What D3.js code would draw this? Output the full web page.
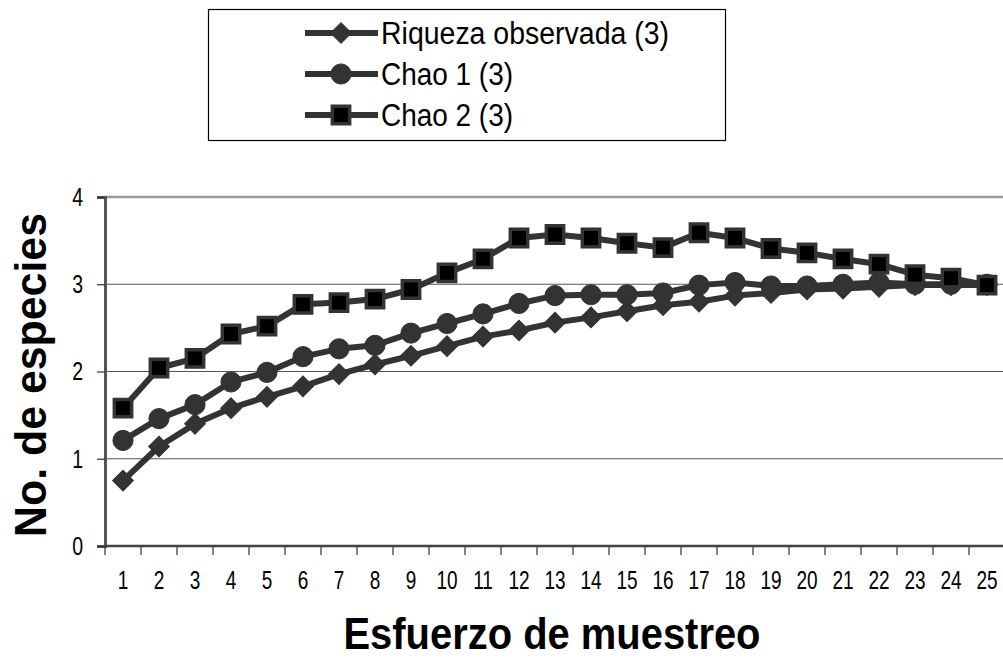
<!DOCTYPE html>
<html>
<head>
<meta charset="utf-8">
<script src="https://cdn.jsdelivr.net/npm/d3@7"></script>
<style>
  html, body { margin: 0; padding: 0; background: #fff; overflow: hidden; }
  svg { display: block; }
  text { font-family: "Liberation Sans Narrow", "Arial Narrow", "Liberation Sans", Arial, sans-serif; }
</style>
</head>
<body>
<svg id="chart" width="1003" height="659"></svg>
<script>
const categories = d3.range(1, 26).map(String);
const riqueza = [0.75, 1.14, 1.40, 1.58, 1.71, 1.83, 1.97, 2.08, 2.18, 2.29, 2.40, 2.47, 2.56, 2.62, 2.69, 2.76, 2.80, 2.87, 2.90, 2.94, 2.95, 2.97, 2.99, 2.99, 2.99];
const chao1   = [1.21, 1.46, 1.62, 1.88, 1.99, 2.17, 2.26, 2.30, 2.44, 2.55, 2.66, 2.78, 2.87, 2.88, 2.88, 2.90, 2.99, 3.02, 2.98, 2.98, 3.00, 3.02, 3.00, 3.00, 3.00];
const chao2   = [1.58, 2.04, 2.15, 2.43, 2.52, 2.77, 2.79, 2.83, 2.94, 3.13, 3.29, 3.53, 3.57, 3.53, 3.47, 3.42, 3.59, 3.53, 3.41, 3.36, 3.29, 3.23, 3.11, 3.07, 2.99];
const yTicks = [0, 1, 2, 3, 4];
const seriesNames = ["Riqueza observada (3)", "Chao 1 (3)", "Chao 2 (3)"];
const seriesSymbols = ["diamond", "circle", "square"];
const yTitle = "No. de especies";
const xTitle = "Esfuerzo de muestreo";

const series = [riqueza, chao1, chao2].map((vals, i) => ({ name: seriesNames[i], sym: seriesSymbols[i], values: vals }));

const svg = d3.select("#chart");
const plot = { left: 105, right: 1005, top: 197, bottom: 546 };

const x = d3.scaleBand().domain(categories).range([plot.left, plot.right]);
const y = d3.scaleLinear().domain([0, 4]).range([plot.bottom, plot.top]);

const lineColor = "#333333";

// condense text (narrow font look)
function condense(sel, factor) {
  sel.each(function () {
    const len = this.getComputedTextLength();
    d3.select(this).attr("textLength", len * factor).attr("lengthAdjust", "spacingAndGlyphs");
  });
}

// gridlines
svg.append("g").selectAll("line").data(yTicks.filter(t => t > 0 && t < 4)).join("line")
  .attr("x1", plot.left).attr("x2", plot.right)
  .attr("y1", d => y(d)).attr("y2", d => y(d))
  .attr("stroke", "#555").attr("stroke-width", 1.2);

// top border
svg.append("line").attr("x1", plot.left).attr("x2", plot.right)
  .attr("y1", plot.top).attr("y2", plot.top)
  .attr("stroke", "#999").attr("stroke-width", 2.5);

// y axis
const yAxis = svg.append("g").attr("transform", `translate(${plot.left},0)`)
  .call(d3.axisLeft(y).tickValues(yTicks).tickSize(8).tickPadding(14).tickFormat(d3.format("d")));
yAxis.select(".domain").attr("stroke", "#555").attr("stroke-width", 3);
yAxis.selectAll(".tick line").attr("stroke", "#333").attr("stroke-width", 1.2);
yAxis.selectAll(".tick text").attr("font-size", 26).attr("fill", "#000")
  .style("font-family", '"Liberation Sans Narrow", "Arial Narrow", "Liberation Sans", Arial, sans-serif');
condense(yAxis.selectAll(".tick text"), 0.75);

// x axis (ticks between categories)
const xAxisG = svg.append("g");
xAxisG.append("line").attr("x1", plot.left).attr("x2", plot.right)
  .attr("y1", plot.bottom).attr("y2", plot.bottom).attr("stroke", "#444").attr("stroke-width", 2.5);
const edges = categories.map(c => x(c)).concat([x(categories[categories.length - 1]) + x.bandwidth()]);
xAxisG.selectAll("line.tk").data(edges).join("line").attr("class", "tk")
  .attr("x1", d => d).attr("x2", d => d).attr("y1", plot.bottom).attr("y2", plot.bottom + 9)
  .attr("stroke", "#333").attr("stroke-width", 1.2);
const xLabels = xAxisG.selectAll("text").data(categories).join("text")
  .attr("x", d => x(d) + x.bandwidth() / 2).attr("y", 589)
  .attr("text-anchor", "middle").attr("font-size", 25).attr("fill", "#000").text(d => d);
condense(xLabels, 0.76);

// lines and markers
const line = d3.line().x((d, i) => x(categories[i]) + x.bandwidth() / 2).y(d => y(d));

function drawMarker(g, sym, cx, cy) {
  if (sym === "square") {
    g.append("path").attr("d", d3.symbol(d3.symbolSquare, 300)())
      .attr("transform", `translate(${cx},${cy})`)
      .attr("fill", "#000").attr("stroke", lineColor).attr("stroke-width", 3.5);
  } else if (sym === "diamond") {
    g.append("path").attr("d", d3.symbol(d3.symbolSquare, 215)())
      .attr("transform", `translate(${cx},${cy}) rotate(45)`)
      .attr("fill", lineColor).attr("stroke", lineColor).attr("stroke-width", 1);
  } else {
    g.append("path").attr("d", d3.symbol(d3.symbolCircle, 320)())
      .attr("transform", `translate(${cx},${cy})`)
      .attr("fill", lineColor).attr("stroke", lineColor).attr("stroke-width", 1);
  }
}

series.forEach(s => {
  const g = svg.append("g");
  g.append("path").datum(s.values).attr("d", line)
    .attr("fill", "none").attr("stroke", lineColor).attr("stroke-width", 6).attr("stroke-linejoin", "round");
  s.values.forEach((v, i) => drawMarker(g, s.sym, x(categories[i]) + x.bandwidth() / 2, y(v)));
});

// legend
const lg = svg.append("g");
lg.append("rect").attr("x", 208.5).attr("y", 9.5).attr("width", 517).attr("height", 131)
  .attr("fill", "#fff").attr("stroke", "#000").attr("stroke-width", 1.2);
const legendY = [33, 74, 115];
const legendW = [288, 132, 132];
series.forEach((s, i) => {
  const cy = legendY[i];
  lg.append("line").attr("x1", 305).attr("x2", 378).attr("y1", cy).attr("y2", cy)
    .attr("stroke", lineColor).attr("stroke-width", 6);
  drawMarker(lg, s.sym, 341, cy);
  lg.append("text").attr("x", 381).attr("y", cy + 11).attr("font-size", 31).attr("fill", "#000")
    .attr("textLength", legendW[i]).attr("lengthAdjust", "spacingAndGlyphs").text(s.name);
});

// titles
svg.append("text").attr("transform", `translate(46,375) rotate(-90)`)
  .attr("text-anchor", "middle").attr("font-size", 45).attr("font-weight", "bold").attr("fill", "#000")
  .attr("textLength", 324).attr("lengthAdjust", "spacingAndGlyphs").text(yTitle);
svg.append("text").attr("x", 552).attr("y", 649)
  .attr("text-anchor", "middle").attr("font-size", 44).attr("font-weight", "bold").attr("fill", "#000")
  .attr("textLength", 417).attr("lengthAdjust", "spacingAndGlyphs").text(xTitle);
</script>
</body>
</html>
